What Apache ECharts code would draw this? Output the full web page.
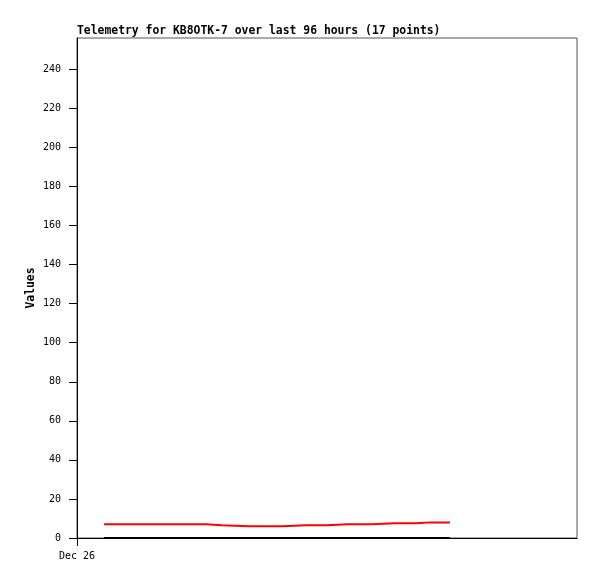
<!DOCTYPE html>
<html>
<head>
<meta charset="utf-8">
<script src="https://cdn.jsdelivr.net/npm/echarts@6/dist/echarts.min.js"></script>
<style>
  html, body { margin: 0; padding: 0; background: #fff; }
  #main { width: 597px; height: 579px; }
</style>
</head>
<body>
<div id="main"></div>
<script>
// hours since Dec 26 00:00
var hours = [5.2, 10, 15, 20, 24.8, 27.8, 33, 39.4, 44, 48, 52, 56.5, 61, 65.1, 68, 70, 71.6];
var redValues = [7.0, 7.0, 7.0, 7.0, 6.5, 6.0, 6.0, 6.5, 6.5, 7.0, 7.0, 7.5, 7.5, 8.0, 8.0, 8.0, 8.0];
var blackValues = [0, 0, 0, 0, 0, 0, 0, 0, 0, 0, 0, 0, 0, 0, 0, 0, 0];
var xTickValues = [0];
var xTickLabels = ['Dec 26'];

function pairs(xs, ys) {
  var out = [];
  for (var i = 0; i < xs.length; i++) out.push([xs[i], ys[i]]);
  return out;
}

var chart = echarts.init(document.getElementById('main'));
var font = 'DejaVu Sans Mono';

chart.setOption({
  animation: false,
  title: {
    text: 'Telemetry for KB8OTK-7 over last 96 hours (17 points)',
    left: 77,
    top: 26,
    padding: 0,
    textStyle: { fontFamily: font, fontSize: 11.4, fontWeight: 'bold', color: '#000' }
  },
  grid: {
    left: 77, right: 20, top: 38, bottom: 41,
    show: true, borderColor: '#555', borderWidth: 1, backgroundColor: '#fff'
  },
  xAxis: {
    type: 'value',
    min: 0,
    max: 96,
    splitLine: { show: false },
    axisLine: { onZero: false, lineStyle: { color: '#000', width: 1 } },
    axisTick: { customValues: xTickValues, length: 8, lineStyle: { color: '#000' } },
    axisLabel: {
      customValues: xTickValues,
      formatter: function (v) {
        var i = xTickValues.indexOf(v);
        return i >= 0 ? xTickLabels[i] : '';
      },
      margin: 13,
      fontFamily: font, fontSize: 10, color: '#000'
    }
  },
  yAxis: {
    type: 'value',
    min: 0,
    max: 256,
    interval: 20,
    name: 'Values',
    nameLocation: 'middle',
    nameGap: 40,
    nameMoveOverlap: false,
    nameTextStyle: { fontFamily: font, fontSize: 11.4, fontWeight: 'bold', color: '#000' },
    splitLine: { show: false },
    axisLine: { show: true, lineStyle: { color: '#000', width: 1 } },
    axisTick: { show: true, length: 8, lineStyle: { color: '#000' } },
    axisLabel: { showMaxLabel: false, margin: 16, fontFamily: font, fontSize: 10, color: '#000' }
  },
  series: [
    {
      type: 'line',
      step: 'end',
      data: pairs(hours, blackValues),
      symbol: 'none',
      lineStyle: { color: '#000', width: 2 },
      z: 3
    },
    {
      type: 'line',
      step: 'end',
      data: pairs(hours, redValues),
      symbol: 'none',
      lineStyle: { color: '#ff0000', width: 2 },
      z: 4
    }
  ]
});
</script>
</body>
</html>
